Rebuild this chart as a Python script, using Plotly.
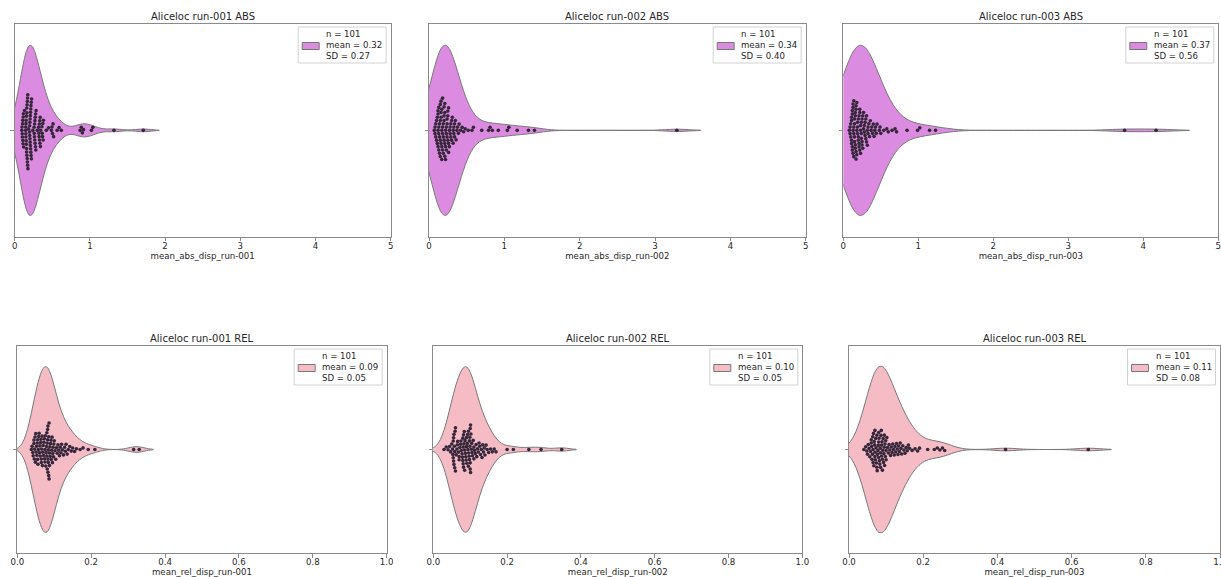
import numpy as np
import plotly.graph_objects as go

W, H = 1221, 577

# ---------------- data ----------------
abs_run_001 = [0.095, 0.098, 0.100, 0.102, 0.105, 0.107, 0.109, 0.111, 0.113, 0.116,
               0.119, 0.130, 0.145, 0.146, 0.148, 0.149, 0.150, 0.152, 0.153, 0.155,
               0.156, 0.158, 0.159, 0.160, 0.162, 0.163, 0.165, 0.166, 0.168, 0.169,
               0.171, 0.172, 0.174, 0.176, 0.185, 0.197, 0.199, 0.200, 0.202, 0.203,
               0.205, 0.206, 0.208, 0.209, 0.211, 0.212, 0.214, 0.215, 0.217, 0.218,
               0.220, 0.222, 0.225, 0.240, 0.258, 0.260, 0.263, 0.265, 0.267, 0.269,
               0.271, 0.273, 0.276, 0.278, 0.281, 0.284, 0.300, 0.318, 0.321, 0.324,
               0.327, 0.330, 0.333, 0.336, 0.339, 0.342, 0.345, 0.362, 0.366, 0.370,
               0.374, 0.378, 0.382, 0.420, 0.450, 0.488, 0.495, 0.502, 0.510, 0.518,
               0.565, 0.590, 0.620, 0.870, 0.885, 0.900, 0.915, 1.020, 1.040, 1.320,
               1.710]

abs_run_002 = [0.07, 0.08, 0.08, 0.09, 0.09, 0.10, 0.10, 0.11, 0.11, 0.12, 0.12, 0.12,
               0.12, 0.13, 0.13, 0.13, 0.13, 0.14, 0.14, 0.14, 0.15, 0.15, 0.15, 0.15,
               0.16, 0.16, 0.16, 0.16, 0.17, 0.17, 0.17, 0.17, 0.18, 0.18, 0.18, 0.18,
               0.19, 0.19, 0.19, 0.20, 0.20, 0.20, 0.20, 0.21, 0.21, 0.21, 0.21, 0.22,
               0.22, 0.22, 0.23, 0.23, 0.23, 0.24, 0.24, 0.24, 0.25, 0.25, 0.25, 0.26,
               0.26, 0.26, 0.27, 0.27, 0.28, 0.28, 0.29, 0.29, 0.30, 0.30, 0.31, 0.32,
               0.32, 0.33, 0.33, 0.34, 0.34, 0.35, 0.36, 0.37, 0.38, 0.39, 0.40, 0.42,
               0.44, 0.46, 0.48, 0.52, 0.57, 0.59, 0.70, 0.79, 0.81, 0.84, 0.92, 1.04,
               1.06, 1.17, 1.32, 1.40, 3.29]

abs_run_003 = [0.08, 0.09, 0.09, 0.10, 0.10, 0.11, 0.11, 0.11, 0.11, 0.12, 0.12, 0.12,
               0.12, 0.13, 0.13, 0.13, 0.13, 0.14, 0.14, 0.14, 0.14, 0.15, 0.15, 0.15,
               0.15, 0.16, 0.16, 0.16, 0.16, 0.17, 0.17, 0.17, 0.17, 0.18, 0.18, 0.18,
               0.19, 0.19, 0.19, 0.20, 0.20, 0.20, 0.21, 0.21, 0.21, 0.22, 0.22, 0.22,
               0.23, 0.23, 0.23, 0.24, 0.24, 0.24, 0.25, 0.25, 0.25, 0.26, 0.26, 0.27,
               0.27, 0.28, 0.28, 0.29, 0.29, 0.30, 0.30, 0.31, 0.31, 0.32, 0.32, 0.33,
               0.33, 0.34, 0.35, 0.36, 0.37, 0.38, 0.39, 0.40, 0.41, 0.42, 0.43, 0.44,
               0.45, 0.48, 0.49, 0.50, 0.54, 0.58, 0.60, 0.65, 0.69, 0.71, 0.85, 0.99,
               1.02, 1.15, 1.23, 3.75, 4.17]

rel_run_001 = [0.038, 0.040, 0.042, 0.043, 0.045, 0.045, 0.046, 0.047, 0.048, 0.049,
               0.050, 0.051, 0.052, 0.053, 0.054, 0.055, 0.055, 0.056, 0.057, 0.058,
               0.059, 0.060, 0.061, 0.062, 0.063, 0.064, 0.065, 0.065, 0.066, 0.067,
               0.068, 0.069, 0.070, 0.071, 0.072, 0.073, 0.074, 0.075, 0.075, 0.076,
               0.077, 0.078, 0.079, 0.080, 0.080, 0.081, 0.081, 0.082, 0.082, 0.083,
               0.083, 0.083, 0.084, 0.084, 0.085, 0.085, 0.086, 0.086, 0.087, 0.087,
               0.088, 0.089, 0.090, 0.091, 0.092, 0.093, 0.094, 0.095, 0.096, 0.097,
               0.098, 0.099, 0.100, 0.102, 0.104, 0.106, 0.108, 0.110, 0.112, 0.114,
               0.116, 0.118, 0.120, 0.122, 0.125, 0.128, 0.130, 0.132, 0.135, 0.138,
               0.142, 0.146, 0.150, 0.155, 0.160, 0.170, 0.178, 0.192, 0.210, 0.315,
               0.330]

rel_run_002 = [0.029, 0.035, 0.040, 0.044, 0.047, 0.050, 0.052, 0.053, 0.054, 0.054,
               0.055, 0.055, 0.056, 0.056, 0.057, 0.058, 0.058, 0.059, 0.060, 0.060,
               0.062, 0.064, 0.065, 0.066, 0.068, 0.070, 0.070, 0.072, 0.074, 0.075,
               0.076, 0.078, 0.079, 0.080, 0.080, 0.081, 0.081, 0.082, 0.082, 0.083,
               0.084, 0.085, 0.085, 0.086, 0.087, 0.088, 0.089, 0.090, 0.090, 0.091,
               0.092, 0.093, 0.094, 0.095, 0.095, 0.096, 0.097, 0.098, 0.098, 0.099,
               0.099, 0.100, 0.100, 0.100, 0.101, 0.101, 0.102, 0.103, 0.104, 0.105,
               0.106, 0.108, 0.110, 0.110, 0.112, 0.114, 0.116, 0.118, 0.120, 0.122,
               0.124, 0.126, 0.128, 0.130, 0.132, 0.134, 0.136, 0.138, 0.140, 0.143,
               0.146, 0.150, 0.155, 0.160, 0.165, 0.170, 0.200, 0.217, 0.259, 0.292,
               0.348]

rel_run_003 = [0.040, 0.045, 0.048, 0.050, 0.052, 0.054, 0.056, 0.058, 0.060, 0.060,
               0.061, 0.062, 0.063, 0.064, 0.065, 0.065, 0.066, 0.067, 0.068, 0.069,
               0.070, 0.070, 0.070, 0.071, 0.072, 0.073, 0.074, 0.075, 0.075, 0.076,
               0.077, 0.078, 0.079, 0.080, 0.080, 0.080, 0.081, 0.082, 0.083, 0.084,
               0.085, 0.085, 0.086, 0.087, 0.088, 0.088, 0.089, 0.090, 0.090, 0.091,
               0.092, 0.093, 0.094, 0.095, 0.095, 0.096, 0.097, 0.098, 0.099, 0.100,
               0.100, 0.102, 0.104, 0.106, 0.108, 0.110, 0.112, 0.114, 0.116, 0.118,
               0.120, 0.122, 0.124, 0.126, 0.128, 0.130, 0.132, 0.134, 0.136, 0.138,
               0.140, 0.142, 0.145, 0.148, 0.151, 0.154, 0.157, 0.160, 0.163, 0.170,
               0.178, 0.185, 0.190, 0.212, 0.230, 0.238, 0.245, 0.252, 0.258, 0.422,
               0.645]

titles = ["Aliceloc run-001 ABS", "Aliceloc run-002 ABS", "Aliceloc run-003 ABS",
          "Aliceloc run-001 REL", "Aliceloc run-002 REL", "Aliceloc run-003 REL"]
xlabels = ["mean_abs_disp_run-001", "mean_abs_disp_run-002", "mean_abs_disp_run-003",
           "mean_rel_disp_run-001", "mean_rel_disp_run-002", "mean_rel_disp_run-003"]
abs_ticks = [0, 1, 2, 3, 4, 5]
abs_ticktext = ["0", "1", "2", "3", "4", "5"]
rel_ticks = [0.0, 0.2, 0.4, 0.6, 0.8, 1.0]
rel_ticktext = ["0.0", "0.2", "0.4", "0.6", "0.8", "1.0"]

series = [abs_run_001, abs_run_002, abs_run_003, rel_run_001, rel_run_002, rel_run_003]

# ---------------- layout / style ----------------
# panel boxes in pixels: (left, right, top, bottom)
boxes = [(14.7, 390.7, 24, 236.7), (429, 805.7, 24, 236.7), (843.3, 1218.3, 24, 236.7),
         (17.3, 386.7, 346, 553), (433.3, 802.3, 346, 553), (849, 1220, 346, 553)]
VIOLET = "#dc8ce0"
PINK = "#f5bcc6"
EDGE = "#787878"
DOT = "#35263a"
AX = "#8a8a8a"
TXT = "#262626"
FONT = "DejaVu Sans"
DIAM = 3.35  # swarm dot spacing in px
LEG_W, LEG_H = 88, 36


def swarm_offsets(values, px_per_unit, diam):
    v = np.asarray(values, float)
    order = np.argsort(v, kind="stable")
    px_x, px_y = [], []
    offs = np.zeros(len(v))
    for idx in order:
        x = v[idx] * px_per_unit
        nb = [(a, b) for a, b in zip(px_x, px_y) if abs(a - x) < diam]
        cands = [0.0]
        for a, b in nb:
            dy = np.sqrt(max(diam ** 2 - (a - x) ** 2, 0.0))
            cands += [b + dy, b - dy]
        cands.sort(key=lambda c: (abs(c), -c))
        y = cands[-1]
        for c in cands:
            if all((a - x) ** 2 + (b - c) ** 2 >= diam ** 2 - 1e-9 for a, b in nb):
                y = c
                break
        px_x.append(x)
        px_y.append(y)
        offs[idx] = y
    return offs


def px(xp, yp):
    return xp / W, 1 - yp / H


fig = go.Figure()
layout = dict(template="none", width=W, height=H, autosize=False, paper_bgcolor="white",
              plot_bgcolor="white", margin=dict(l=0, r=0, t=0, b=0, pad=0),
              font=dict(family=FONT, color=TXT, size=8.6), showlegend=False,
              annotations=[], shapes=[])

for i, vals in enumerate(series):
    k = i + 1
    xa = "x" if k == 1 else f"x{k}"
    ya = "y" if k == 1 else f"y{k}"
    L, R, T, B = boxes[i]
    is_abs = i < 3
    xmax = 5.0 if is_abs else 1.0
    arr = np.asarray(vals, float)
    n = len(arr)
    sd = arr.std(ddof=1)
    bw = sd * n ** (-1 / 5)  # Scott's rule
    label = f"n = {n}<br>mean = {arr.mean():.2f}<br>SD = {sd:.2f}"
    fill = VIOLET if is_abs else PINK

    fig.add_trace(go.Violin(x=arr, y0=0, orientation="h", bandwidth=bw,
                            spanmode="soft", width=0.8, scalemode="width",
                            points=False, fillcolor=fill, opacity=1,
                            line=dict(color=EDGE, width=1), name=label,
                            box_visible=False, meanline_visible=False,
                            hoverinfo="skip", xaxis=xa, yaxis=ya))
    ppu = (R - L) / xmax
    offs = swarm_offsets(arr, ppu, DIAM) / (B - T)
    fig.add_trace(go.Scatter(x=arr, y=offs, mode="markers",
                             marker=dict(size=3.6, color=DOT, line=dict(width=0)),
                             hoverinfo="skip", xaxis=xa, yaxis=ya))

    xkey = "xaxis" if k == 1 else f"xaxis{k}"
    ykey = "yaxis" if k == 1 else f"yaxis{k}"
    layout[xkey] = dict(domain=[L / W, R / W], range=[0, xmax], anchor=ya,
                        automargin=False, ticklabeloverflow="allow",
                        tickvals=abs_ticks if is_abs else rel_ticks,
                        ticktext=abs_ticktext if is_abs else rel_ticktext,
                        ticks="outside", ticklen=3.5, tickwidth=1, tickcolor=AX,
                        ticklabelstandoff=-3,
                        tickfont=dict(size=8.6, color=TXT, family=FONT),
                        showline=True, mirror=True, linecolor=AX, linewidth=1,
                        showgrid=False, zeroline=False,
                        title=dict(text=xlabels[i], font=dict(size=8.6, color=TXT, family=FONT),
                                   standoff=1))
    layout[ykey] = dict(domain=[1 - B / H, 1 - T / H], range=[-0.5, 0.5], anchor=xa,
                        automargin=False,
                        tickvals=[0], ticktext=[""], ticks="outside", ticklen=3.5,
                        tickcolor=AX, showline=True, mirror=True, linecolor=AX,
                        linewidth=1, showgrid=False, zeroline=False)

    # legend box (frame, colour patch, statistics text)
    bl, bt = R - 4.5 - LEG_W, T + 3
    x0, y1 = px(bl, bt)
    x1, y0 = px(bl + LEG_W, bt + LEG_H)
    layout["shapes"].append(dict(type="rect", xref="paper", yref="paper", layer="above",
                                 x0=x0, x1=x1, y0=y0, y1=y1, fillcolor="white",
                                 line=dict(color="#d2d2d2", width=1)))
    px0, py1 = px(bl + 4, bt + LEG_H / 2 - 2.5)
    px1, py0 = px(bl + 21, bt + LEG_H / 2 + 4.5)
    layout["shapes"].append(dict(type="rect", xref="paper", yref="paper", layer="above",
                                 x0=px0, x1=px1, y0=py0, y1=py1, fillcolor=fill,
                                 line=dict(color=EDGE, width=1)))
    tx, ty = px(bl + 27, bt + LEG_H / 2)
    layout["annotations"].append(dict(text=label, x=tx, y=ty, xref="paper", yref="paper",
                                      xanchor="left", yanchor="middle", align="left",
                                      showarrow=False, borderpad=0,
                                      font=dict(size=8.6, color=TXT, family=FONT)))
    layout["annotations"].append(dict(text=titles[i], x=(L + R) / 2 / W, y=1 - T / H,
                                      xref="paper", yref="paper", xanchor="center",
                                      yanchor="bottom", yshift=0, showarrow=False,
                                      font=dict(size=10, color=TXT, family=FONT)))

fig.update_layout(**layout)
fig.write_html("out.html", config={"displayModeBar": False, "staticPlot": True},
               post_script="document.body.style.margin='0';"
                           "document.body.style.padding='0';"
                           "document.body.style.overflow='hidden';")
